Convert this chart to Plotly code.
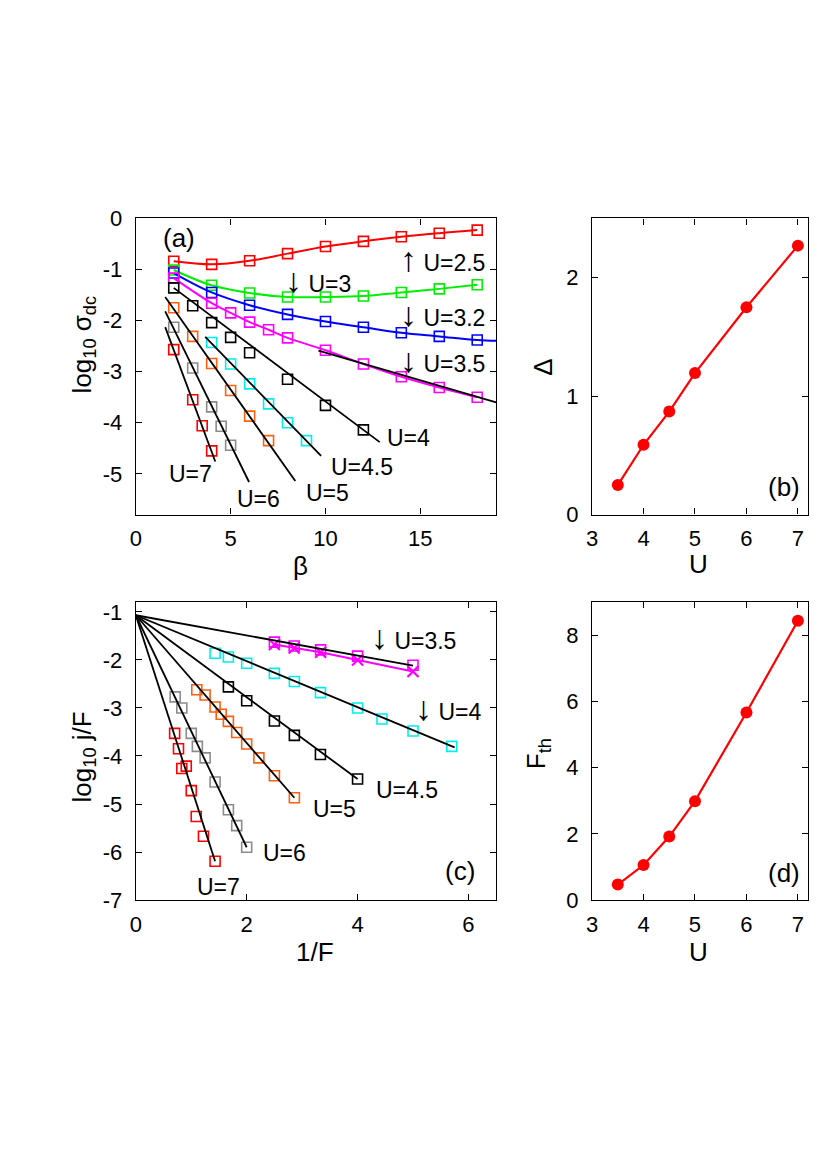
import plotly.graph_objects as go

# ---------------- Panel (a): log10 sigma_dc vs beta ----------------
beta_even = [2, 4, 6, 8, 10, 12, 14, 16, 18]
sig_U25 = [-0.84, -0.90, -0.83, -0.69, -0.55, -0.45, -0.36, -0.29, -0.23]
sig_U3 = [-1.01, -1.31, -1.46, -1.54, -1.54, -1.52, -1.45, -1.38, -1.30]
sig_U32 = [-1.07, -1.45, -1.70, -1.88, -2.02, -2.13, -2.24, -2.31, -2.38]
beta_U32_curve = [2, 4, 6, 8, 10, 12, 14, 16, 18, 19.5]
sig_U32_curve = [-1.07, -1.45, -1.70, -1.88, -2.02, -2.13, -2.24, -2.31, -2.38, -2.40]
beta_U35 = [2, 4, 5, 6, 7, 8, 10, 12, 14, 16, 18]
sig_U35 = [-1.17, -1.66, -1.85, -2.03, -2.18, -2.34, -2.58, -2.85, -3.10, -3.31, -3.50]
beta_U4 = [2, 3, 4, 5, 6, 8, 10, 12]
sig_U4 = [-1.36, -1.71, -2.04, -2.33, -2.63, -3.15, -3.66, -4.14]
beta_U45 = [4, 5, 6, 7, 8, 9]
sig_U45 = [-2.43, -2.85, -3.24, -3.63, -4.00, -4.35]
beta_U5 = [2, 3, 4, 5, 6, 7]
sig_U5 = [-1.75, -2.31, -2.84, -3.37, -3.87, -4.35]
beta_U6 = [2, 3, 4, 4.5, 5]
sig_U6 = [-2.13, -2.93, -3.69, -4.07, -4.44]
beta_U7 = [2, 3, 3.5, 4]
sig_U7 = [-2.57, -3.55, -4.06, -4.55]

# activated fits (straight lines) in panel (a)
fit_a_U35_x = [9.63, 19.0]
fit_a_U35_y = [-2.59, -3.60]
fit_a_U4_x = [2.0, 12.86]
fit_a_U4_y = [-1.36, -4.38]
fit_a_U45_x = [3.66, 9.77]
fit_a_U45_y = [-2.32, -4.65]
fit_a_U5_x = [1.55, 8.41]
fit_a_U5_y = [-1.54, -5.14]
fit_a_U6_x = [1.55, 5.97]
fit_a_U6_y = [-1.82, -5.16]
fit_a_U7_x = [1.55, 4.19]
fit_a_U7_y = [-2.13, -4.76]

# ---------------- Panel (c): log10 j/F vs 1/F ----------------
invF_U35 = [2.5, 2.857, 3.333, 4.0, 5.0]
j_U35_sq = [-1.63, -1.71, -1.79, -1.92, -2.11]
j_U35_x = [-1.68, -1.75, -1.84, -2.00, -2.24]
invF_U4 = [1.43, 1.67, 2.0, 2.5, 2.86, 3.33, 4.0, 4.44, 5.0, 5.7]
j_U4 = [-1.86, -1.94, -2.07, -2.28, -2.45, -2.68, -3.00, -3.23, -3.48, -3.80]
invF_U45 = [1.67, 2.0, 2.5, 2.86, 3.33, 4.0]
j_U45 = [-2.56, -2.85, -3.27, -3.57, -3.97, -4.48]
invF_U5 = [1.10, 1.25, 1.43, 1.54, 1.67, 1.82, 2.0, 2.22, 2.5, 2.86]
j_U5 = [-2.62, -2.73, -2.98, -3.13, -3.28, -3.51, -3.75, -4.04, -4.41, -4.87]
invF_U6 = [0.71, 0.83, 1.0, 1.11, 1.25, 1.43, 1.67, 1.82, 2.0]
j_U6 = [-2.77, -3.00, -3.53, -3.80, -4.04, -4.54, -5.12, -5.45, -5.90]
invF_U7 = [0.70, 0.77, 0.83, 0.91, 1.0, 1.09, 1.22, 1.43]
j_U7 = [-3.53, -3.85, -4.26, -4.21, -4.72, -5.26, -5.67, -6.19]

fit_c_U35_x = [0.0, 5.0]
fit_c_U35_y = [-1.07, -2.12]
fit_c_U4_x = [0.0, 5.75]
fit_c_U4_y = [-1.07, -3.82]
fit_c_U45_x = [0.0, 4.0]
fit_c_U45_y = [-1.07, -4.48]
fit_c_U5_x = [0.0, 2.86]
fit_c_U5_y = [-1.07, -4.87]
fit_c_U6_x = [0.0, 2.0]
fit_c_U6_y = [-1.07, -5.90]
fit_c_U7_x = [0.0, 1.43]
fit_c_U7_y = [-1.07, -6.19]

# ---------------- Panels (b) and (d) ----------------
U_vals = [3.5, 4, 4.5, 5, 6, 7]
gap_vals = [0.25, 0.59, 0.87, 1.195, 1.75, 2.27]
Fth_vals = [0.47, 1.06, 1.92, 2.99, 5.67, 8.44]

# tick labels
a_xticks = [0, 5, 10, 15]
a_yticks = [-5, -4, -3, -2, -1, 0]
b_xticks = [3, 4, 5, 6, 7]
b_yticks = [0, 1, 2]
c_xticks = [0, 2, 4, 6]
c_yticks = [-7, -6, -5, -4, -3, -2, -1]
d_xticks = [3, 4, 5, 6, 7]
d_yticks = [0, 2, 4, 6, 8]

RED = "#ff0000"
GREEN = "#00ee00"
BLUE = "#0000ff"
MAGENTA = "#ff00ff"
CYAN = "#00eeee"
ORANGE = "#ff6010"
GRAY = "#8c8c8c"
BLACK = "#000000"
FONT = "Liberation Sans, Arial, Helvetica, sans-serif"
FS_TICK = 22
FS_LAB = 23
FS_TITLE = 26
FS_PANEL = 26

fig = go.Figure()


def sq(x, y, color, xa, ya, line=False, spline=False):
    fig.add_trace(go.Scatter(
        x=x, y=y, xaxis=xa, yaxis=ya,
        mode="lines+markers" if line else "markers",
        line=dict(color=color, width=2, shape="spline" if spline else "linear"),
        marker=dict(symbol="square-open", size=10, color=color, line=dict(width=1.6, color=color)),
        showlegend=False, cliponaxis=True))


def ln(x, y, color, xa, ya, width=1.8, spline=False):
    fig.add_trace(go.Scatter(
        x=x, y=y, xaxis=xa, yaxis=ya, mode="lines",
        line=dict(color=color, width=width, shape="spline" if spline else "linear"),
        showlegend=False))


# panel (a)
sq(beta_even, sig_U25, RED, "x", "y", line=True, spline=True)
sq(beta_even, sig_U3, GREEN, "x", "y", line=True, spline=True)
ln(beta_U32_curve, sig_U32_curve, BLUE, "x", "y", width=2, spline=True)
sq(beta_even, sig_U32, BLUE, "x", "y")
sq(beta_U35, sig_U35, MAGENTA, "x", "y", line=True, spline=True)
sq(beta_U4, sig_U4, BLACK, "x", "y")
sq(beta_U45, sig_U45, CYAN, "x", "y")
sq(beta_U5, sig_U5, ORANGE, "x", "y")
sq(beta_U6, sig_U6, GRAY, "x", "y")
sq(beta_U7, sig_U7, RED, "x", "y")
for fx, fy in [(fit_a_U35_x, fit_a_U35_y), (fit_a_U4_x, fit_a_U4_y), (fit_a_U45_x, fit_a_U45_y),
               (fit_a_U5_x, fit_a_U5_y), (fit_a_U6_x, fit_a_U6_y), (fit_a_U7_x, fit_a_U7_y)]:
    ln(fx, fy, BLACK, "x", "y")

# panel (b)
fig.add_trace(go.Scatter(x=U_vals, y=gap_vals, xaxis="x2", yaxis="y2", mode="lines+markers",
                         line=dict(color=RED, width=2.2),
                         marker=dict(symbol="circle", size=12, color=RED), showlegend=False))

# panel (c)
sq(invF_U35, j_U35_sq, MAGENTA, "x3", "y3")
fig.add_trace(go.Scatter(x=invF_U35, y=j_U35_x, xaxis="x3", yaxis="y3", mode="lines+markers",
                         line=dict(color=MAGENTA, width=2),
                         marker=dict(symbol="x-thin-open", size=11, color=MAGENTA,
                                     line=dict(width=2.2, color=MAGENTA)), showlegend=False))
sq(invF_U4, j_U4, CYAN, "x3", "y3")
sq(invF_U45, j_U45, BLACK, "x3", "y3")
sq(invF_U5, j_U5, ORANGE, "x3", "y3")
sq(invF_U6, j_U6, GRAY, "x3", "y3")
sq(invF_U7, j_U7, RED, "x3", "y3")
for fx, fy in [(fit_c_U35_x, fit_c_U35_y), (fit_c_U4_x, fit_c_U4_y), (fit_c_U45_x, fit_c_U45_y),
               (fit_c_U5_x, fit_c_U5_y), (fit_c_U6_x, fit_c_U6_y), (fit_c_U7_x, fit_c_U7_y)]:
    ln(fx, fy, BLACK, "x3", "y3")

# panel (d)
fig.add_trace(go.Scatter(x=U_vals, y=Fth_vals, xaxis="x4", yaxis="y4", mode="lines+markers",
                         line=dict(color=RED, width=2.2),
                         marker=dict(symbol="circle", size=12, color=RED), showlegend=False))

W, H = 827, 1170


def px_x(p):
    return p / W


def px_y(p):
    return 1 - p / H


def axis(domain, rng, ticks, anchor, standoff=6):
    return dict(domain=domain, range=rng, anchor=anchor,
                tickvals=ticks, ticktext=[str(t) for t in ticks],
                showline=True, linecolor="black", linewidth=1.4, mirror="allticks",
                ticks="inside", ticklen=6, tickwidth=1.3, tickcolor="black",
                showgrid=False, zeroline=False, ticklabelstandoff=standoff,
                tickfont=dict(family=FONT, size=FS_TICK, color="black"))


xa_dom = [px_x(122.7), px_x(485.7)]
xb_dom = [px_x(582.3), px_x(800)]
ya_dom = [px_y(505.5), px_y(202.7)]
yc_dom = [px_y(899.3), px_y(595)]

fig.update_layout(
    width=W, height=H, margin=dict(l=0, r=0, t=0, b=0),
    paper_bgcolor="white", plot_bgcolor="white",
    font=dict(family=FONT, size=FS_TICK, color="black"),
    xaxis=axis(xa_dom, [0, 19], a_xticks, "y", 4),
    yaxis=axis(ya_dom, [-5.8, 0], a_yticks, "x", 8),
    xaxis2=axis(xb_dom, [3, 7.2], b_xticks, "y2", 4),
    yaxis2=axis(ya_dom, [0, 2.5], b_yticks, "x2", 8),
    xaxis3=axis(xa_dom, [0, 6.5], c_xticks, "y3", 4),
    yaxis3=axis(yc_dom, [-7, -0.8], c_yticks, "x3", 8),
    xaxis4=axis(xb_dom, [3, 7.2], d_xticks, "y4", 4),
    yaxis4=axis(yc_dom, [0, 9], d_yticks, "x4", 8),
)

ann = []


def t(text, x, y, xref, yref, xanchor="left", yanchor="middle", angle=0, size=FS_LAB):
    ann.append(dict(text=text, x=x, y=y, xref=xref, yref=yref, xanchor=xanchor, yanchor=yanchor,
                    showarrow=False, textangle=angle, borderpad=0,
                    font=dict(family=FONT, size=size, color="black")))


UP = '<span style="font-size:34px">\u2191</span>'
DOWN = '<span style="font-size:34px">\u2193</span>'

# panel (a) texts
t("(a)", 2.28, -0.38, "x", "y", "center", size=FS_PANEL)
t(UP + " U=2.5", 13.87, -0.79, "x", "y")
t(DOWN + " U=3", 7.80, -1.21, "x", "y")
t(DOWN + " U=3.2", 13.87, -1.87, "x", "y")
t(DOWN + " U=3.5", 13.87, -2.78, "x", "y")
t("U=4", 13.21, -4.30, "x", "y")
t("U=4.5", 10.24, -4.87, "x", "y")
t("U=5", 8.93, -5.38, "x", "y")
t("U=6", 5.27, -5.49, "x", "y")
t("U=7", 1.69, -5.00, "x", "y")
# panel (b)
t("(b)", 6.73, 0.237, "x2", "y2", "center", size=FS_PANEL)
# panel (c)
t(DOWN + " U=3.5", 4.22, -1.53, "x3", "y3")
t(DOWN + " U=4", 5.02, -3.00, "x3", "y3")
t("U=4.5", 4.31, -4.71, "x3", "y3")
t("U=5", 3.18, -5.11, "x3", "y3")
t("U=6", 2.28, -6.02, "x3", "y3")
t("U=7", 1.09, -6.72, "x3", "y3")
t("(c)", 5.84, -6.40, "x3", "y3", "center", size=FS_PANEL)
# panel (d)
t("(d)", 6.73, 0.82, "x4", "y4", "center", size=FS_PANEL)

# axis titles
t("\u03b2", px_x(288.3), px_y(558), "paper", "paper", "center", size=FS_TITLE)
t("U", px_x(690), px_y(556), "paper", "paper", "center", size=FS_TITLE)
t("1/F", px_x(303.3), px_y(952), "paper", "paper", "center", size=FS_TITLE)
t("U", px_x(690), px_y(952), "paper", "paper", "center", size=FS_TITLE)
t("\u0394", px_x(533.3), px_y(355), "paper", "paper", "center", "middle", -90, size=FS_TITLE)
t("F<sub>th</sub>", px_x(528), px_y(750), "paper", "paper", "center", "middle", -90, size=FS_TITLE)
t("log<sub>10</sub> \u03c3<sub>dc</sub>", px_x(70), px_y(332), "paper", "paper", "center", "middle", -90,
  size=FS_TITLE)
t("log<sub>10</sub> j/F", px_x(70), px_y(753), "paper", "paper", "center", "middle", -90, size=FS_TITLE)

fig.update_layout(annotations=ann)

fig.write_html("out.html")
